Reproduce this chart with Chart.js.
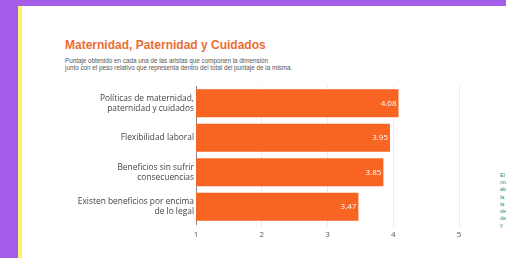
<!DOCTYPE html>
<html><head><meta charset="utf-8">
<script src="https://cdn.jsdelivr.net/npm/chart.js@4/dist/chart.umd.min.js"></script>
<style>
html,body{margin:0;padding:0;width:506px;height:258px;overflow:hidden;background:#a45ce9;}
#panel{position:absolute;left:18px;top:6px;width:500px;height:260px;background:#fff;border-left:4px solid #f6f56f;}
#title{position:absolute;left:65px;top:38px;font:bold 12px "Liberation Sans",Arial,sans-serif;color:#ec6c34;white-space:nowrap;}
#sub{position:absolute;left:65px;top:57px;font:6.3px/7.2px "Liberation Sans",Arial,sans-serif;color:#555;white-space:nowrap;}
#side{position:absolute;left:500px;top:172px;font:5.5px/7.2px "Liberation Sans",Arial,sans-serif;color:#2a8a80;white-space:nowrap;}
#wrap{position:absolute;left:22px;top:80px;width:460px;height:170px;}
</style></head><body>
<div id="panel"></div>
<div id="title">Maternidad, Paternidad y Cuidados</div>
<div id="sub">Puntaje obtenido en cada una de las aristas que componen la dimensión<br>junto con el peso relativo que representa dentro del total del puntaje de la misma.</div>
<div id="side">El<br>nivel<br>alcanzado<br>la<br>la<br>de<br>de<br>y</div>
<div id="wrap"><canvas id="c"></canvas></div>
<script>
const categories = [
  ["Políticas de maternidad,", "paternidad y cuidados"],
  ["Flexibilidad laboral"],
  ["Beneficios sin sufrir", "consecuencias"],
  ["Existen beneficios por encima", "de lo legal"]
];
const scores = [4.08, 3.95, 3.85, 3.47];
const tickValues = [1, 2, 3, 4, 5];

const valueLabels = {
  id: 'valueLabels',
  afterDatasetsDraw(chart) {
    const ctx = chart.ctx;
    const meta = chart.getDatasetMeta(0);
    ctx.save();
    ctx.font = '8px "Open Sans", sans-serif';
    ctx.fillStyle = '#ffffff';
    ctx.textAlign = 'right';
    ctx.textBaseline = 'middle';
    meta.data.forEach((bar, i) => {
      ctx.fillText(scores[i].toFixed(2), bar.x - 2, bar.y);
    });
    ctx.restore();
  }
};

new Chart(document.getElementById('c'), {
  type: 'bar',
  data: {
    labels: categories,
    datasets: [{
      data: scores,
      backgroundColor: '#f86421',
      borderWidth: 0,
      categoryPercentage: 0.81,
      barPercentage: 1.0
    }]
  },
  options: {
    indexAxis: 'y',
    responsive: true,
    maintainAspectRatio: false,
    animation: false,
    layout: { padding: { top: 6, right: 23, bottom: 0, left: 0 } },
    plugins: { legend: { display: false }, tooltip: { enabled: false } },
    scales: {
      x: {
        min: 1, max: 5,
        afterBuildTicks(axis) { axis.ticks = tickValues.map(v => ({ value: v })); },
        afterFit(axis) { axis.height = 26; axis.paddingLeft = 0; axis.paddingRight = 0; },
        grid: { color: '#ececec', lineWidth: 1, drawTicks: true, tickLength: 3 },
        border: { display: false },
        ticks: { color: '#555', font: { size: 8, family: '"Open Sans", sans-serif' }, padding: 3 }
      },
      y: {
        afterFit(axis) { axis.width = 174; axis.paddingTop = 0; axis.paddingBottom = 0; },
        grid: { display: false, drawTicks: false },
        border: { display: true, color: '#888', width: 1 },
        ticks: { color: '#444', font: { size: 8.4, family: '"Open Sans", sans-serif', lineHeight: 1.2 }, padding: 2 }
      }
    }
  },
  plugins: [valueLabels]
});
</script>
</body></html>
